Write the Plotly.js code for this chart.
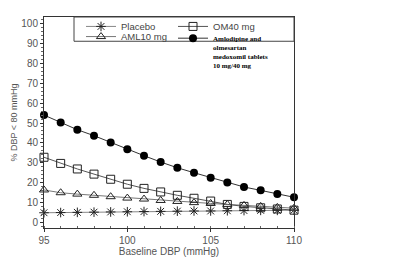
<!DOCTYPE html>
<html>
<head>
<meta charset="utf-8">
<script src="https://cdn.plot.ly/plotly-3.0.1.min.js"></script>
<style>html,body{margin:0;padding:0;background:#fff;}#chart{width:400px;height:267px;}</style>
</head>
<body>
<div id="chart"></div>
<script>
// Baseline DBP (mmHg)
const baselineDBP = [95, 96, 97, 98, 99, 100, 101, 102, 103, 104, 105, 106, 107, 108, 109, 110];
// % of patients reaching DBP < 80 mmHg
const placebo = [4.7, 4.8, 4.9, 5.0, 5.1, 5.2, 5.3, 5.4, 5.5, 5.6, 5.6, 5.7, 5.8, 5.9, 5.9, 6.0];
const aml10 = [16.2, 14.8, 14.1, 13.5, 12.8, 12.1, 11.6, 10.9, 10.4, 9.8, 9.4, 8.9, 8.4, 7.9, 7.4, 7.0];
const om40 = [32.7, 29.6, 26.8, 24.2, 21.6, 19.1, 17.0, 15.2, 13.5, 12.0, 10.6, 8.9, 7.9, 7.2, 6.6, 6.0];
const combo = [54.0, 50.3, 46.6, 43.6, 40.1, 36.7, 33.5, 30.3, 27.4, 24.9, 22.4, 20.0, 17.7, 16.0, 14.1, 12.5];
const seriesNames = ["Placebo", "AML10 mg", "OM40 mg",
  "Amlodipine and<br>olmesartan<br>medoxomil tablets<br>10 mg/40 mg"];
const xTicks = [95, 100, 105, 110];
const yTicks = [0, 10, 20, 30, 40, 50, 60, 70, 80, 90, 100];

const traces = [
  {x: baselineDBP, y: placebo, name: seriesNames[0], type: 'scatter', mode: 'lines+markers',
   line: {color: '#888', width: 1}, marker: {symbol: 'asterisk-open', size: 8, color: '#222', line: {color: '#222', width: 1}},
   legend: 'legend', cliponaxis: false},
  {x: baselineDBP, y: aml10, name: seriesNames[1], type: 'scatter', mode: 'lines+markers',
   line: {color: '#777', width: 1}, marker: {symbol: 'triangle-up-open', size: 8, color: '#222', line: {color: '#222', width: 1}},
   legend: 'legend4', cliponaxis: false},
  {x: baselineDBP, y: om40, name: seriesNames[2], type: 'scatter', mode: 'lines+markers',
   line: {color: '#555', width: 1}, marker: {symbol: 'square-open', size: 8, color: '#222', line: {color: '#222', width: 1}},
   legend: 'legend2', cliponaxis: false},
  {x: baselineDBP, y: combo, name: seriesNames[3], type: 'scatter', mode: 'lines+markers',
   line: {color: '#333', width: 1}, marker: {symbol: 'circle', size: 8, color: '#000'},
   legend: 'legend3', cliponaxis: false}
];

const sans = 'Liberation Sans, Arial, sans-serif';
const tickFont = {family: sans, size: 10, color: '#555'};
const legFont = {family: sans, size: 9.5, color: '#444'};
const legBase = {bgcolor: 'rgba(0,0,0,0)', borderwidth: 0, itemwidth: 30, tracegroupgap: 0,
  xref: 'paper', yref: 'paper', xanchor: 'left', yanchor: 'top'};

const layout = {
  width: 400, height: 267,
  margin: {l: 44, r: 106, t: 17, b: 39},
  paper_bgcolor: '#fff', plot_bgcolor: '#fff',
  showlegend: true,
  font: tickFont,
  xaxis: {
    range: [95, 110], tickvals: xTicks, ticks: 'outside', ticklen: 3, tickcolor: '#333',
    showgrid: false, zeroline: false, showline: true, linecolor: '#333', linewidth: 1, mirror: true,
    minor: {dtick: 1, ticks: 'inside', ticklen: 2, tickcolor: '#666', showgrid: false},
    tickfont: tickFont,
    title: {text: 'Baseline DBP (mmHg)', font: tickFont, standoff: 2}
  },
  yaxis: {
    range: [-3, 103.5], tickvals: yTicks, ticks: 'outside', ticklen: 3, tickcolor: '#333',
    showgrid: false, zeroline: false, showline: true, linecolor: '#333', linewidth: 1, mirror: true,
    minor: {dtick: 2, ticks: 'outside', ticklen: 2, tickcolor: '#666', showgrid: false},
    tickfont: tickFont,
    title: {text: '% DBP < 80 mmHg', font: {family: sans, size: 9, color: '#555'}, standoff: 2}
  },
  legend: Object.assign({}, legBase, {x: 0.148, y: 1.024, font: legFont}),
  legend4: Object.assign({}, legBase, {x: 0.148, y: 0.976, font: legFont}),
  legend2: Object.assign({}, legBase, {x: 0.516, y: 1.024, font: legFont}),
  legend3: Object.assign({}, legBase, {x: 0.516, y: 0.952, valign: 'top', font: {family: 'Liberation Serif, Times New Roman, serif', size: 7, color: '#000', weight: 'bold'}}),
  shapes: [
    {type: 'rect', xref: 'paper', yref: 'paper', x0: 0.12, x1: 1.0, y0: 0.885, y1: 1.0,
     line: {color: '#444', width: 1}, fillcolor: 'rgba(0,0,0,0)', layer: 'above'}
  ]
};

Plotly.newPlot('chart', traces, layout, {displayModeBar: false, staticPlot: true});
</script>
</body>
</html>
